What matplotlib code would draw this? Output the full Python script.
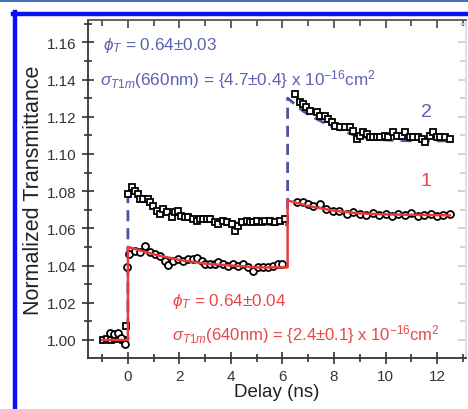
import matplotlib
matplotlib.use("Agg")
import matplotlib.pyplot as plt
from matplotlib.lines import Line2D
from matplotlib.ticker import MultipleLocator

plt.rcParams['font.family'] = ['Liberation Sans', 'DejaVu Sans']
plt.rcParams['mathtext.fontset'] = 'custom'
plt.rcParams['mathtext.rm'] = 'Liberation Sans'
plt.rcParams['mathtext.it'] = 'Liberation Sans:italic'

# --- curve 2 (squares, 660 nm) ---
t2_pre = [-0.95, -0.8, -0.65, -0.5, -0.35, -0.2, -0.08]
y2_pre = [1.000, 1.0005, 1.000, 1.0005, 1.001, 1.000, 1.0075]

t2_a = [0.01, 0.14, 0.27, 0.40, 0.47, 0.60, 0.79, 0.85, 0.98, 1.11, 1.24, 1.37,
        1.50, 1.70, 1.83, 1.95, 2.08, 2.21, 2.34, 2.54, 2.67, 2.80, 2.93, 3.06,
        3.18, 3.38, 3.51, 3.70, 3.83, 4.03, 4.16, 4.28, 4.41, 4.61, 4.74, 4.87,
        5.00, 5.19, 5.32, 5.51, 5.71, 5.90, 6.10]
y2_a = [1.0785, 1.0821, 1.0803, 1.0785, 1.0758, 1.0758, 1.0758, 1.0740, 1.0722,
        1.0695, 1.0677, 1.0704, 1.0686, 1.0659, 1.0686, 1.0695, 1.0668, 1.0659,
        1.0659, 1.0651, 1.0642, 1.0651, 1.0651, 1.0651, 1.0651, 1.0633, 1.0624,
        1.0642, 1.0633, 1.0624, 1.0588, 1.0615, 1.0633, 1.0642, 1.0633, 1.0633,
        1.0642, 1.0633, 1.0642, 1.0642, 1.0633, 1.0642, 1.0651]

t2_b = [6.50, 6.70, 6.80, 6.93, 7.05, 7.33, 7.46, 7.65, 7.78, 7.91, 8.04, 8.23,
        8.43, 8.62, 8.75, 8.88, 9.01, 9.14, 9.27, 9.40, 9.53, 9.66, 9.79, 9.98,
        10.11, 10.30, 10.43, 10.63, 10.76, 10.95, 11.08, 11.27, 11.40, 11.53,
        11.73, 11.86, 11.99, 12.12, 12.31, 12.50]
y2_b = [1.1323, 1.1278, 1.1269, 1.1251, 1.1233, 1.1224, 1.1206, 1.1206, 1.1188,
        1.1170, 1.1152, 1.1143, 1.1143, 1.1143, 1.1125, 1.1081, 1.1099, 1.1116,
        1.1108, 1.1090, 1.1090, 1.1090, 1.1090, 1.1099, 1.1090, 1.1116, 1.1099,
        1.1099, 1.1116, 1.1090, 1.1090, 1.1090, 1.1081, 1.1063, 1.1099, 1.1116,
        1.1090, 1.1090, 1.1090, 1.1081]

# fit for curve 2
fit2_t = [-1.0, 0.0, 0.0, 0.5, 1.0, 2.0, 3.0, 4.0, 5.0, 6.2,
          6.2, 6.8, 7.3, 8.0, 9.0, 10.0, 11.0, 12.5]
fit2_y = [1.000, 1.000, 1.082, 1.077, 1.073, 1.068, 1.065, 1.063, 1.062, 1.062,
          1.130, 1.123, 1.119, 1.114, 1.109, 1.1075, 1.107, 1.107]

# --- curve 1 (circles, 640 nm) ---
t1_pre = [-0.7, -0.55, -0.4, -0.25, -0.12, -0.02]
y1_pre = [1.004, 1.003, 1.0035, 1.001, 0.998, 1.039]

t1_a = [0.03, 0.27, 0.47, 0.66, 0.85, 1.05, 1.24, 1.44, 1.57, 1.76, 1.95, 2.15,
        2.34, 2.54, 2.67, 2.86, 2.99, 3.18, 3.38, 3.51, 3.70, 3.90, 4.09, 4.28,
        4.48, 4.67, 4.87, 5.06, 5.26, 5.45, 5.64, 5.84, 6.00]
y1_a = [1.0462, 1.0480, 1.0471, 1.0503, 1.0471, 1.0462, 1.0453, 1.0427, 1.0403,
        1.0427, 1.0435, 1.0427, 1.0435, 1.0435, 1.0439, 1.0427, 1.0409, 1.0409,
        1.0409, 1.0421, 1.0409, 1.0400, 1.0409, 1.0400, 1.0409, 1.0391, 1.0368,
        1.0391, 1.0391, 1.0391, 1.0400, 1.0409, 1.0409]

t1_b = [6.55, 6.80, 7.00, 7.20, 7.45, 7.70, 7.97, 8.20, 8.50, 8.75, 9.00, 9.25,
        9.50, 9.75, 10.00, 10.25, 10.50, 10.75, 11.00, 11.25, 11.50, 11.75,
        12.00, 12.25, 12.50]
y1_b = [1.0740, 1.0743, 1.0729, 1.0720, 1.0729, 1.0704, 1.0695, 1.0695, 1.0677,
        1.0686, 1.0677, 1.0672, 1.0681, 1.0672, 1.0677, 1.0668, 1.0677, 1.0672,
        1.0681, 1.0668, 1.0672, 1.0677, 1.0668, 1.0672, 1.0677]

# fit for curve 1
fit1_t = [-1.0, 0.0, 0.0, 1.0, 2.0, 3.0, 4.0, 5.0, 6.2,
          6.2, 7.0, 8.0, 9.0, 10.0, 12.5]
fit1_y = [1.000, 1.000, 1.050, 1.046, 1.043, 1.041, 1.040, 1.039, 1.039,
          1.075, 1.072, 1.0695, 1.068, 1.0675, 1.067]

BLUE = '#4b53a3'
RED = '#e83a3c'
TXT_BLUE = '#5a62ad'
TXT_RED = '#ea4646'
AX_COL = '#333333'

fig = plt.figure(figsize=(4.68, 4.10), dpi=100)
ax = fig.add_axes([0.188, 0.1244, 0.808, 0.8244])

ax.plot(fit2_t, fit2_y, color=BLUE, lw=2.0, dashes=(4, 2.5), zorder=2)

mk = dict(ls='none', mfc='white', mec='black', mew=1.3, ms=5.0, zorder=3)
ax.plot(t2_pre + t2_a + t2_b, y2_pre + y2_a + y2_b, marker='s', **mk)
ax.plot(t1_pre + t1_a + t1_b, y1_pre + y1_a + y1_b, marker='o', **mk)

ax.plot(fit1_t, fit1_y, color=RED, lw=1.8, zorder=4)

ax.set_xlim(-1.55, 13.13)
ax.set_ylim(0.9903, 1.172)
ax.xaxis.set_major_locator(MultipleLocator(2))
ax.xaxis.set_minor_locator(MultipleLocator(1))
ax.yaxis.set_major_locator(MultipleLocator(0.02))
ax.yaxis.set_minor_locator(MultipleLocator(0.01))
ax.yaxis.set_major_formatter(plt.FormatStrFormatter('%.2f'))

ax.tick_params(which='both', direction='inout', labelsize=11, labelcolor=AX_COL,
               color=AX_COL, width=1.2)
ax.tick_params(which='major', length=9)
ax.tick_params(which='minor', length=6)
for sp in ax.spines.values():
    sp.set_linewidth(1.3)
    sp.set_color(AX_COL)
ax.spines['top'].set_color('#555555')
ax.spines['right'].set_color('#dddddd')

# inward ticks on the top and right edges
top = ax.secondary_xaxis('top')
top.xaxis.set_major_locator(MultipleLocator(2))
top.xaxis.set_minor_locator(MultipleLocator(1))
top.tick_params(which='both', direction='in', labeltop=False, color='#444444', width=1.2)
top.tick_params(which='major', length=6)
top.tick_params(which='minor', length=4)
top.spines['top'].set_visible(False)
right = ax.secondary_yaxis('right')
right.yaxis.set_major_locator(MultipleLocator(0.02))
right.yaxis.set_minor_locator(MultipleLocator(0.01))
right.tick_params(which='both', direction='in', labelright=False, color='#cccccc', width=1.2)
right.tick_params(which='major', length=6)
right.tick_params(which='minor', length=4)
right.spines['right'].set_visible(False)

ax.set_xlabel('Delay (ns)', fontsize=13.5, color='#222222', labelpad=0)
ax.set_ylabel('Normalized Transmittance', fontsize=15.5, color='#222222', labelpad=2)

ax.text(-0.97, 1.159, r'$\phi_T$ = 0.64±0.03', color=TXT_BLUE, fontsize=12.3, va='center')
ax.text(-1.07, 1.1403, r'$\sigma_{T1m}$(660nm) = {4.7±0.4} x 10$^{-16}$cm$^2$',
        color=TXT_BLUE, fontsize=12.3, va='center')
ax.text(1.71, 1.021, r'$\phi_T$ = 0.64±0.04', color=TXT_RED, fontsize=12.3, va='center')
ax.text(1.71, 1.0032, r'$\sigma_{T1m}$(640nm) = {2.4±0.1} x 10$^{-16}$cm$^2$',
        color=TXT_RED, fontsize=12, va='center')
ax.text(11.57, 1.1226, '2', color=TXT_BLUE, fontsize=14, ha='center', va='center')
ax.text(11.57, 1.0855, '1', color=TXT_RED, fontsize=14, ha='center', va='center')

# page frame lines around the figure
W, H = 468.0, 410.0
fig.add_artist(Line2D([0, 1], [1 - 1.5 / H, 1 - 1.5 / H], transform=fig.transFigure,
                      color='#2f62b0', lw=1.3))
fig.add_artist(Line2D([13 / W, 1], [1 - 15 / H, 1 - 15 / H], transform=fig.transFigure,
                      color='#0a10f5', lw=3.2))
fig.add_artist(Line2D([15 / W, 15 / W], [0, 1 - 13 / H], transform=fig.transFigure,
                      color='#0a10f5', lw=3.2))

fig.savefig('out.png', dpi=100)
